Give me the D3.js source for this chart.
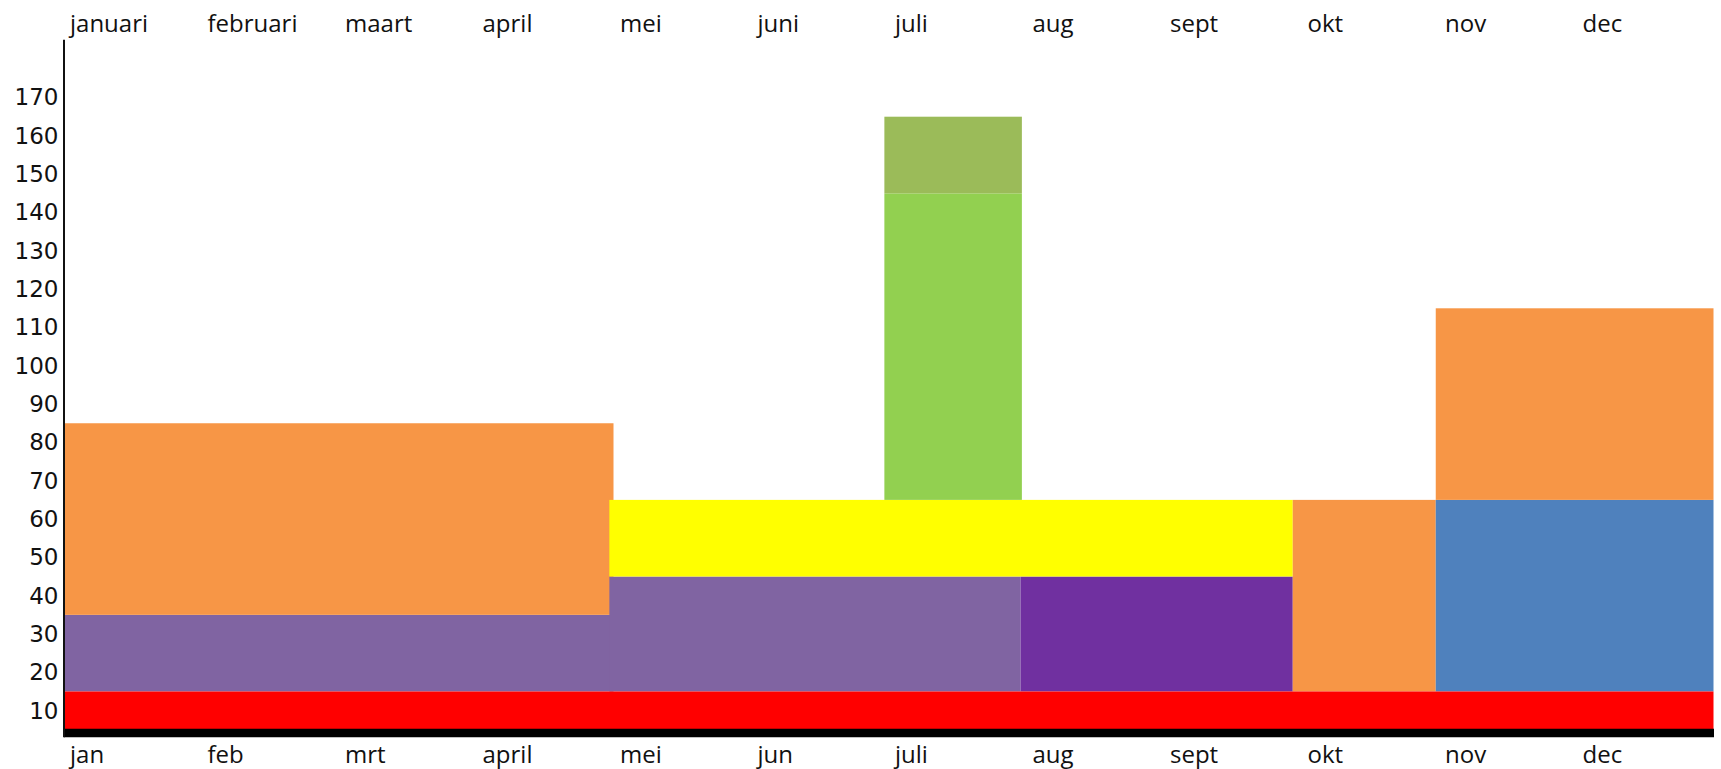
<!DOCTYPE html>
<html>
<head>
<meta charset="utf-8">
<script src="https://cdn.jsdelivr.net/npm/d3@7"></script>
<style>
  html, body { margin: 0; padding: 0; background: #fff; }
  svg { display: block; }
</style>
</head>
<body>
<svg id="chart" width="1721" height="769"></svg>
<script>
// ---- data ----
const monthsTop = ["januari","februari","maart","april","mei","juni","juli","aug","sept","okt","nov","dec"];
const monthsBottom = ["jan","feb","mrt","april","mei","jun","juli","aug","sept","okt","nov","dec"];
const yTicks = [10,20,30,40,50,60,70,80,90,100,110,120,130,140,150,160,170];

// bars: start/end in months (0 = begin januari), low/high in value units
const barStart = [0,    0,    3.97, 6.96, 3.97, 5.97, 5.97, 8.94, 9.98, 9.98, 0   ];
const barEnd   = [4,    4,    6.96, 8.94, 8.94, 6.97, 6.97, 9.98, 12,   12,   12  ];
const barLow   = [15,   35,   15,   15,   45,   65,   145,  15,   15,   65,   5   ];
const barHigh  = [35,   85,   45,   45,   65,   145,  165,  65,   65,   115,  15  ];
const barColor = ["#8064A2","#F79646","#8064A2","#7030A0","#FFFF00","#92D050","#9BBB59","#F79646","#4F81BD","#F79646","#FF0000"];

// ---- drawing ----
const svg = d3.select("#chart");
const x = d3.scaleLinear().domain([0, 12]).range([63.5, 1713.5]);
const y = d3.scaleLinear().domain([3.2, 185.2]).range([736.7, 39.3]);

const bars = barStart.map((s, i) => ({s, e: barEnd[i], lo: barLow[i], hi: barHigh[i], c: barColor[i]}));

svg.append("g").selectAll("rect")
  .data(bars)
  .join("rect")
  .attr("x", d => x(d.s))
  .attr("width", d => x(d.e) - x(d.s))
  .attr("y", d => y(d.hi))
  .attr("height", d => y(d.lo) - y(d.hi))
  .attr("fill", d => d.c);

// bottom thick baseline (x-axis domain)
const bottomAxis = d3.axisBottom(x)
  .tickValues(d3.range(12))
  .tickFormat((d, i) => monthsBottom[i])
  .tickSize(0)
  .tickPadding(0);
const gb = svg.append("g").attr("transform", `translate(0, ${y(4.3)})`).call(bottomAxis);
gb.select(".domain").attr("stroke", "#000").attr("stroke-width", 8.4);
gb.selectAll("text")
  .attr("text-anchor", "start")
  .attr("dx", 6)
  .attr("dy", 0)
  .attr("y", 31)
  .attr("font-family", "'Open Sans', sans-serif")
  .attr("font-size", 24)
  .attr("fill", "#111");

// top month labels
const topAxis = d3.axisTop(x)
  .tickValues(d3.range(12))
  .tickFormat((d, i) => monthsTop[i])
  .tickSize(0)
  .tickPadding(0);
const gt = svg.append("g").attr("transform", "translate(0, 0)").call(topAxis);
gt.select(".domain").remove();
gt.selectAll("text")
  .attr("text-anchor", "start")
  .attr("dx", 6)
  .attr("dy", 0)
  .attr("y", 32)
  .attr("font-family", "'Open Sans', sans-serif")
  .attr("font-size", 24)
  .attr("fill", "#111");

// left axis
const leftAxis = d3.axisLeft(y)
  .tickValues(yTicks)
  .tickSize(0)
  .tickPadding(5);
const gl = svg.append("g").attr("transform", `translate(${x(0)}, 0)`).call(leftAxis);
gl.select(".domain").attr("stroke", "#111").attr("stroke-width", 2);
gl.selectAll("text")
  .attr("font-family", "'DejaVu Sans', Verdana, sans-serif")
  .attr("font-size", 23)
  .attr("fill", "#111");
</script>
</body>
</html>
